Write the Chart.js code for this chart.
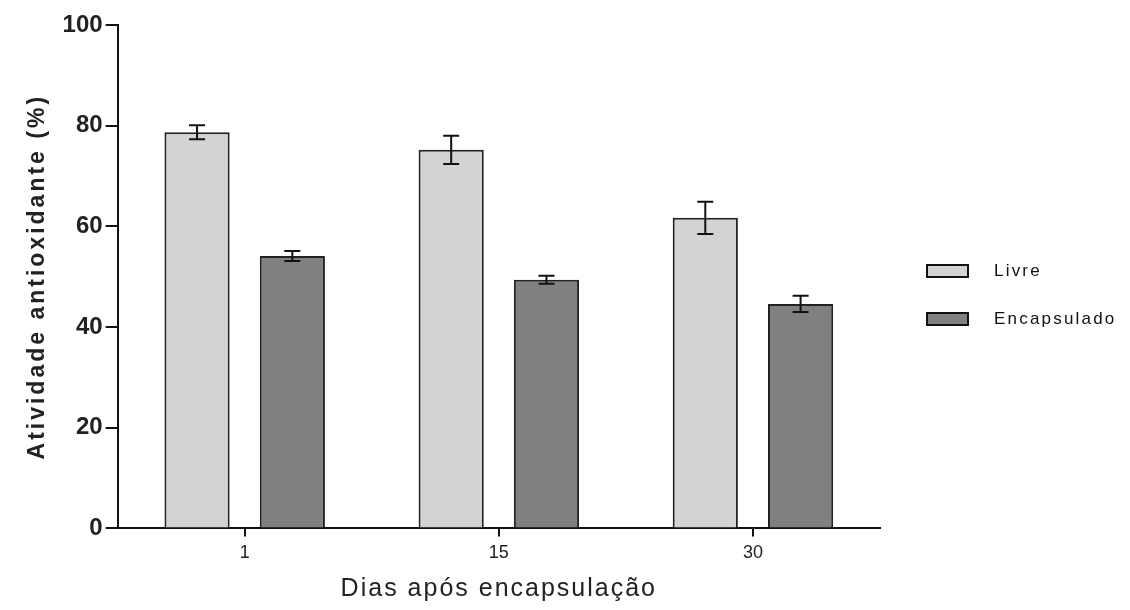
<!DOCTYPE html>
<html>
<head>
<meta charset="utf-8">
<script src="https://cdn.jsdelivr.net/npm/chart.js@4"></script>
<style>
  body { margin: 0; background: #fff; }
</style>
</head>
<body>
<canvas id="barChart" width="1130" height="610"></canvas>
<script>
var days = ["1", "15", "30"];
var livre = [78.7, 75.2, 61.7];
var livreErr = [1.4, 2.8, 3.2];
var encapsulado = [54.1, 49.4, 44.6];
var encapsuladoErr = [1.0, 0.8, 1.6];
var yTicks = [0, 20, 40, 60, 80, 100];

// error bars drawn from the dataset values through the y scale
var errorBars = {
  id: "errorBars",
  afterDatasetsDraw: function(chart) {
    var ctx = chart.ctx;
    var yScale = chart.scales.y;
    ctx.save();
    ctx.strokeStyle = "#111";
    ctx.lineWidth = 2;
    chart.data.datasets.forEach(function(ds, i) {
      var meta = chart.getDatasetMeta(i);
      meta.data.forEach(function(bar, j) {
        var v = ds.data[j];
        var e = ds.errors[j];
        var top = yScale.getPixelForValue(v + e);
        var bot = yScale.getPixelForValue(v - e);
        var x = bar.x;
        ctx.beginPath();
        ctx.moveTo(x, top); ctx.lineTo(x, bot);
        ctx.moveTo(x - 8, top); ctx.lineTo(x + 8, top);
        ctx.moveTo(x - 8, bot); ctx.lineTo(x + 8, bot);
        ctx.stroke();
      });
    });
    ctx.restore();
  }
};

// the original figure has spaced-out axis titles
var spacedTitles = {
  id: "spacedTitles",
  beforeDraw: function(chart) {
    [["x", "2px"], ["y", "3px"]].forEach(function(p) {
      var scale = chart.scales[p[0]];
      if (scale._spaced) return;
      var orig = scale.drawTitle;
      scale.drawTitle = function() {
        var ctx = this.ctx;
        ctx.save();
        ctx.letterSpacing = p[1];
        orig.apply(this, arguments);
        ctx.restore();
      };
      scale._spaced = true;
    });
  }
};

// legend on the right, like the original figure
var sideLegend = {
  id: "sideLegend",
  afterDraw: function(chart) {
    var ctx = chart.ctx;
    ctx.save();
    ctx.font = "17px 'Liberation Sans', Arial, sans-serif";
    ctx.letterSpacing = "2.2px";
    ctx.textBaseline = "middle";
    chart.data.datasets.forEach(function(ds, i) {
      var y = 271 + i * 48;
      ctx.fillStyle = ds.backgroundColor;
      ctx.fillRect(927, y - 6, 41, 12);
      ctx.strokeStyle = "#111";
      ctx.lineWidth = 2;
      ctx.strokeRect(927, y - 6, 41, 12);
      ctx.fillStyle = "#111";
      ctx.fillText(ds.label, 994, y);
    });
    ctx.restore();
  }
};

var barChart = new Chart(document.getElementById("barChart"), {
  type: "bar",
  data: {
    labels: days,
    datasets: [{
      label: "Livre",
      data: livre,
      errors: livreErr,
      backgroundColor: "#d3d3d3",
      borderColor: "#222",
      borderWidth: 2
    }, {
      label: "Encapsulado",
      data: encapsulado,
      errors: encapsuladoErr,
      backgroundColor: "#808080",
      borderColor: "#222",
      borderWidth: 2
    }]
  },
  options: {
    responsive: false,
    animation: false,
    categoryPercentage: 0.75,
    barPercentage: 0.684,
    layout: { padding: { top: 25, right: 250, left: 24, bottom: 6 } },
    plugins: {
      legend: { display: false },
      tooltip: { enabled: false }
    },
    scales: {
      x: {
        grid: { display: true, offset: false, drawOnChartArea: false, tickLength: 8, tickColor: "#111", lineWidth: 2 },
        border: { color: "#111", width: 2 },
        ticks: { color: "#222", font: { family: "'Liberation Sans', Arial", size: 18 }, padding: 6 },
        title: {
          display: true,
          text: "Dias após encapsulação",
          color: "#222",
          font: { family: "'Liberation Sans', Arial", size: 25 },
          padding: { top: 4, bottom: 0 }
        }
      },
      y: {
        min: 0,
        max: 100,
        afterBuildTicks: function(scale) {
          scale.ticks = yTicks.map(function(v) { return { value: v }; });
        },
        grid: { display: true, drawOnChartArea: false, tickLength: 12, tickColor: "#111", lineWidth: 2 },
        border: { color: "#111", width: 2 },
        ticks: { color: "#222", font: { family: "'Liberation Sans', Arial", size: 24, weight: "bold" }, padding: 3 },
        title: {
          display: true,
          text: "Atividade antioxidante (%)",
          color: "#222",
          font: { family: "'Liberation Sans', Arial", size: 23, weight: "bold" },
          padding: { top: 0, bottom: 8 }
        }
      }
    }
  },
  plugins: [errorBars, spacedTitles, sideLegend]
});
</script>
</body>
</html>
